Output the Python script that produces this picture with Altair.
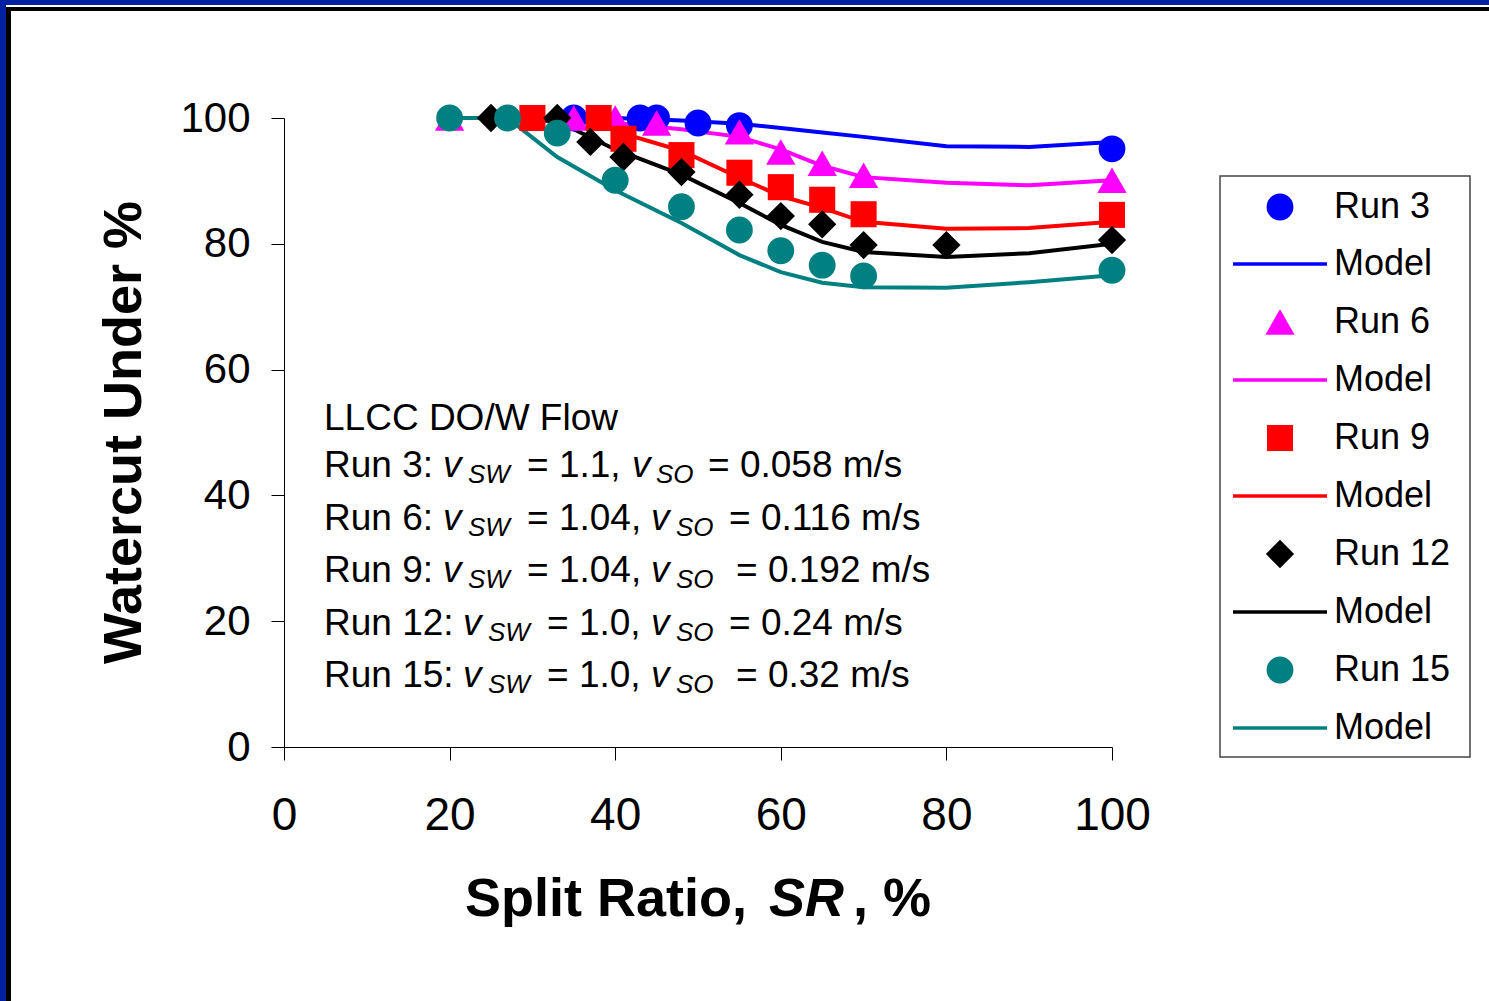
import altair as alt
import pandas as pd

FONT = "Liberation Sans"

# ---------------- data ----------------
run3_x = [35, 43, 45, 50, 55, 100]
run3_y = [100, 100, 100, 99.2, 98.8, 95.1]
model3_x = [35, 40, 48, 55, 60, 65, 70, 80, 90, 100]
model3_y = [100, 100, 99.6, 99.1, 98.4, 97.7, 97.0, 95.5, 95.4, 96.2]

run6_x = [20, 35, 40, 45, 55, 60, 65, 70, 100]
run6_y = [100, 100, 100, 99.2, 97.8, 94.6, 92.8, 90.9, 90.1]
model6_x = [20, 33, 40, 48, 55, 60, 65, 70, 80, 90, 100]
model6_y = [100, 100, 99.2, 98.2, 97.0, 95.0, 92.4, 90.6, 89.7, 89.3, 90.1]

run9_x = [30, 38, 41, 48, 55, 60, 65, 70, 100]
run9_y = [100, 100, 96.7, 94.1, 91.3, 89.0, 87.0, 84.7, 84.6]
model9_x = [30, 38, 41, 48, 55, 60, 65, 70, 80, 90, 100]
model9_y = [100, 100, 97.5, 94.8, 90.5, 87.6, 85.7, 83.5, 82.4, 82.5, 83.5]

run12_x = [25, 33, 37, 41, 48, 55, 60, 65, 70, 80, 100]
run12_y = [100, 100, 96.2, 93.8, 91.4, 87.8, 84.4, 83.1, 79.8, 79.8, 80.6]
model12_x = [25, 33, 40, 48, 55, 60, 65, 70, 80, 90, 100]
model12_y = [100, 99.5, 95.0, 91.0, 86.5, 83.0, 80.3, 78.7, 77.9, 78.5, 80.0]

run15_x = [20, 27, 33, 40, 48, 55, 60, 65, 70, 100]
run15_y = [100, 100, 97.6, 90.1, 85.9, 82.2, 78.9, 76.6, 74.9, 75.8]
model15_x = [20, 27, 33, 40, 48, 55, 60, 65, 70, 80, 90, 100]
model15_y = [100, 100, 93.8, 88.5, 83.3, 78.2, 75.5, 73.8, 73.1, 73.0, 73.9, 75.0]

run_names = ["Run 3", "Run 6", "Run 9", "Run 12", "Run 15"]
model_name = "Model"
axis_ticks = [0, 20, 40, 60, 80, 100]

ann_title = "LLCC DO/W Flow"
ann_runs = ["Run 3:", "Run 6:", "Run 9:", "Run 12:", "Run 15:"]
ann_vsw = ["= 1.1,", "= 1.04,", "= 1.04,", "= 1.0,", "= 1.0,"]
ann_vso = ["= 0.058 m/s", "= 0.116 m/s", "= 0.192 m/s", "= 0.24 m/s", "= 0.32 m/s"]

x_title_parts = ["Split Ratio,", "SR", ", %"]
y_title = "Watercut Under %"

# ---------------- styles / layout ----------------
colors = ["#0000FF", "#FF00FF", "#FF0000", "#000000", "#008080"]
shapes = ["circle", "triangle-up", "square", "diamond", "circle"]
sizes = [720, 860, 680, 800, 720]
frame_blue = "#0022A0"

W, H = 828, 629
OX, OY = 284, 118           # plot origin on the page
PAGE_W, PAGE_H = 1489, 1001

xs = alt.Scale(domain=[0, 100], nice=False, zero=False)
ys = alt.Scale(domain=[0, 100], nice=False, zero=False)

x_axis = alt.Axis(values=axis_ticks, title=None, grid=False, tickSize=13,
                  labelFontSize=46, labelPadding=33, labelFont=FONT,
                  labelColor="black", domainColor="black", tickColor="black",
                  labelFlush=False, labelOverlap=False, format="d")
y_axis = alt.Axis(values=axis_ticks, title=y_title, grid=False, tickSize=13,
                  labelFontSize=42, labelPadding=21, labelFont=FONT,
                  labelColor="black", domainColor="black", tickColor="black",
                  labelFlush=False, labelOverlap=False, format="d",
                  titleFont=FONT, titleFontSize=54, titleFontWeight="bold",
                  titleColor="black", titleAngle=270, titleAlign="center",
                  titleBaseline="alphabetic", titleX=-144, titleY=314)

series = [
    (run3_x, run3_y, model3_x, model3_y),
    (run6_x, run6_y, model6_x, model6_y),
    (run9_x, run9_y, model9_x, model9_y),
    (run12_x, run12_y, model12_x, model12_y),
    (run15_x, run15_y, model15_x, model15_y),
]

PX = lambda f: alt.X(f, scale=None, axis=None)
PY = lambda f: alt.Y(f, scale=None, axis=None)

layers = []

# frame of the slide
frame_df = pd.DataFrame({
    "x": [0, 0, 6, 6], "x2": [6, PAGE_W, 11, PAGE_W],
    "y": [0, 0, 7, 7], "y2": [PAGE_H, 5, PAGE_H, 11],
    "c": [frame_blue, frame_blue, "#000000", "#000000"],
})
frame_df["x"] -= OX; frame_df["x2"] -= OX
frame_df["y"] -= OY; frame_df["y2"] -= OY
layers.append(alt.Chart(frame_df).mark_rect().encode(
    x=PX("x:Q"), x2="x2:Q", y=PY("y:Q"), y2="y2:Q",
    color=alt.Color("c:N", scale=None, legend=None)))

# model lines
for i, (rx, ry, mx, my) in enumerate(series):
    ldf = pd.DataFrame({"x": mx, "y": my})
    layers.append(alt.Chart(ldf).mark_line(color=colors[i], strokeWidth=4).encode(
        x=alt.X("x:Q", scale=xs, axis=x_axis),
        y=alt.Y("y:Q", scale=ys, axis=y_axis)))

# measured points
for i, (rx, ry, mx, my) in enumerate(series):
    pdf = pd.DataFrame({"x": rx, "y": ry})
    layers.append(alt.Chart(pdf).mark_point(
        shape=shapes[i], filled=True, size=sizes[i], color=colors[i],
        opacity=1, strokeWidth=0).encode(
        x=alt.X("x:Q", scale=xs, axis=x_axis),
        y=alt.Y("y:Q", scale=ys, axis=y_axis)))

# annotation block
ann_base = [477, 530, 582, 635, 687]
v1_x = [443, 443, 443, 463, 463]
sw_x = [468, 468, 468, 488, 488]
eq1_x = [527, 527, 527, 547, 547]
v2_x = [632, 651, 651, 651, 651]
so_x = [656, 676, 676, 676, 676]
eq2_x = [708, 729, 736, 729, 736]

normal_rows = [(ann_title, 324, 430)]
italic_rows = []
for k in range(len(ann_runs)):
    b = ann_base[k]
    normal_rows += [(ann_runs[k], 324, b), (ann_vsw[k], eq1_x[k], b),
                    (ann_vso[k], eq2_x[k], b)]
    italic_rows += [("v", v1_x[k], b, 37), ("SW", sw_x[k], b + 6, 26),
                    ("v", v2_x[k], b, 37), ("SO", so_x[k], b + 6, 26)]
ndf = pd.DataFrame(normal_rows, columns=["t", "x", "y"])
ndf["x"] -= OX; ndf["y"] -= OY
idf = pd.DataFrame(italic_rows, columns=["t", "x", "y", "s"])
idf["x"] -= OX; idf["y"] -= OY
layers.append(alt.Chart(ndf).mark_text(align="left", baseline="alphabetic",
                                       font=FONT, fontSize=37, color="black").encode(
    x=PX("x:Q"), y=PY("y:Q"), text="t:N"))
layers.append(alt.Chart(idf).mark_text(align="left", baseline="alphabetic",
                                       font=FONT, fontStyle="italic", color="black").encode(
    x=PX("x:Q"), y=PY("y:Q"), text="t:N",
    size=alt.Size("s:Q", scale=None, legend=None)))

# x axis title with italic SR
xt_df = pd.DataFrame({"t": x_title_parts, "x": [465, 769, 853], "y": [916] * 3,
                      "it": [0, 1, 0]})
xt_df["x"] -= OX; xt_df["y"] -= OY
for italic in (0, 1):
    sub = xt_df[xt_df["it"] == italic]
    layers.append(alt.Chart(sub).mark_text(
        align="left", baseline="alphabetic", font=FONT, fontSize=54,
        fontWeight="bold", fontStyle="italic" if italic else "normal",
        color="black").encode(x=PX("x:Q"), y=PY("y:Q"), text="t:N"))

# custom legend
leg_rows_y = [207, 264, 322, 380, 438, 496, 554, 612, 670, 728]
box_df = pd.DataFrame({"x": [1220 - OX], "x2": [1470 - OX],
                       "y": [176 - OY], "y2": [757 - OY]})
layers.append(alt.Chart(box_df).mark_rect(fill="white", stroke="#444444",
                                          strokeWidth=1.5).encode(
    x=PX("x:Q"), x2="x2:Q", y=PY("y:Q"), y2="y2:Q"))

leg_labels, leg_sym, leg_line = [], [], []
for i, name in enumerate(run_names):
    ys_run = leg_rows_y[2 * i] - OY
    ys_mod = leg_rows_y[2 * i + 1] - OY
    leg_labels += [(name, ys_run), (model_name, ys_mod)]
    leg_sym.append((1280 - OX, ys_run, shapes[i], colors[i], sizes[i]))
    leg_line += [(1233 - OX, ys_mod, colors[i], i), (1327 - OX, ys_mod, colors[i], i)]

lab_df = pd.DataFrame(leg_labels, columns=["t", "y"])
lab_df["x"] = 1334 - OX
layers.append(alt.Chart(lab_df).mark_text(align="left", baseline="middle",
                                          font=FONT, fontSize=36, color="black").encode(
    x=PX("x:Q"), y=PY("y:Q"), text="t:N"))

sym_df = pd.DataFrame(leg_sym, columns=["x", "y", "shape", "c", "s"])
layers.append(alt.Chart(sym_df).mark_point(filled=True, opacity=1, strokeWidth=0).encode(
    x=PX("x:Q"), y=PY("y:Q"),
    shape=alt.Shape("shape:N", scale=None, legend=None),
    color=alt.Color("c:N", scale=None, legend=None),
    size=alt.Size("s:Q", scale=None, legend=None)))

line_df = pd.DataFrame(leg_line, columns=["x", "y", "c", "g"])
layers.append(alt.Chart(line_df).mark_line(strokeWidth=3.5).encode(
    x=PX("x:Q"), y=PY("y:Q"),
    color=alt.Color("c:N", scale=None, legend=None),
    detail="g:N"))

chart = alt.layer(*layers).properties(
    width=W, height=H,
    autosize=alt.AutoSizeParams(type="none"),
    padding={"left": OX, "top": OY, "right": PAGE_W - OX - W, "bottom": PAGE_H - OY - H},
    background="white",
).configure_view(stroke=None)

chart.save("out.html", embed_options={"renderer": "svg", "actions": False})
